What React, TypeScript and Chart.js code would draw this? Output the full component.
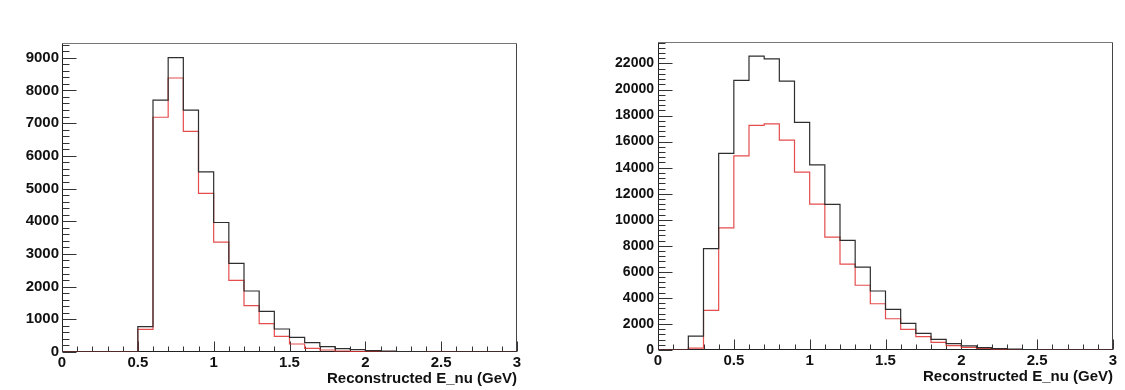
import React, { useEffect, useRef } from "react";
import { Chart, registerables } from "chart.js";

Chart.register(...registerables);

// Lower edges of the 0.1 GeV bins; the last bin closes at 3 GeV
const binLowEdges = [
  0, 0.1, 0.2, 0.3, 0.4, 0.5, 0.6, 0.7, 0.8, 0.9,
  1.0, 1.1, 1.2, 1.3, 1.4, 1.5, 1.6, 1.7, 1.8, 1.9,
  2.0, 2.1, 2.2, 2.3, 2.4, 2.5, 2.6, 2.7, 2.8, 2.9,
];
const histUpperEdge = 3;

const xTickValues = [0, 0.5, 1, 1.5, 2, 2.5, 3];
const xTickLabels = ["0", "0.5", "1", "1.5", "2", "2.5", "3"];
const xAxisTitle = "Reconstructed E_nu (GeV)";

// Left panel
const leftBlack = [
  0, 0, 0, 0, 0, 775, 7700, 9000, 7400, 5510,
  3960, 2710, 1865, 1244, 703, 449, 285, 162, 101, 70,
  40, 25, 15, 10, 6, 4, 3, 2, 1, 1,
];
const leftRed = [
  0, 0, 0, 0, 0, 690, 7180, 8380, 6750, 4850,
  3360, 2190, 1416, 866, 479, 245, 113, 61, 30, 15,
  8, 5, 3, 2, 1, 1, 0, 0, 0, 0,
];
const leftYTickValues = [0, 1000, 2000, 3000, 4000, 5000, 6000, 7000, 8000, 9000];
const leftYTickLabels = ["0", "1000", "2000", "3000", "4000", "5000", "6000", "7000", "8000", "9000"];

// Right panel
const rightBlack = [
  0, 0, 1070, 7780, 15100, 20700, 22560, 22360, 20640, 17480,
  14220, 11180, 8420, 6370, 4530, 3120, 2050, 1280, 820, 490,
  310, 180, 100, 60, 35, 20, 15, 10, 8, 5,
];
const rightRed = [
  0, 0, 150, 3050, 9370, 14900, 17250, 17370, 16120, 13660,
  11200, 8670, 6600, 4970, 3550, 2400, 1590, 1020, 590, 330,
  205, 120, 70, 40, 25, 15, 10, 6, 4, 3,
];
const rightYTickValues = [0, 2000, 4000, 6000, 8000, 10000, 12000, 14000, 16000, 18000, 20000, 22000];
const rightYTickLabels = ["0", "2000", "4000", "6000", "8000", "10000", "12000", "14000", "16000", "18000", "20000", "22000"];

const BLACK = "#2e2e2e";
const RED = "rgba(224, 46, 46, 0.85)";

function toHist(vals: number[]) {
  const pts = binLowEdges.map((x, i) => ({ x, y: vals[i] }));
  pts.push({ x: histUpperEdge, y: vals[vals.length - 1] });
  return pts;
}

const rootFrame = {
  id: "rootFrame",
  beforeDatasetsDraw(chart: any, _args: any, opts: any) {
    const { ctx, chartArea } = chart;
    const { left, right, top, bottom } = chartArea;
    const xs = chart.scales.x;
    const ys = chart.scales.y;
    const L = Math.round(left) + 0.5;
    const R = Math.round(right) - 0.5;
    const T = Math.round(top) + 0.5;
    const B = Math.round(bottom) - 0.5;
    ctx.save();
    ctx.lineWidth = 1;
    // frame
    ctx.strokeStyle = "#777";
    ctx.beginPath();
    ctx.moveTo(L, T);
    ctx.lineTo(R, T);
    ctx.stroke();
    ctx.strokeStyle = "#444";
    ctx.beginPath();
    ctx.moveTo(R, T);
    ctx.lineTo(R, B);
    ctx.stroke();
    ctx.strokeStyle = "#222";
    ctx.beginPath();
    ctx.moveTo(L, T);
    ctx.lineTo(L, B);
    ctx.lineTo(R, B);
    ctx.stroke();
    // y ticks (inward)
    ctx.strokeStyle = "#333";
    const yMinor = opts.yMinor;
    const yPer = opts.yPer;
    for (let i = 0; i * yMinor <= ys.max + 1e-9; i++) {
      const v = i * yMinor;
      const py = Math.round(ys.getPixelForValue(v)) + 0.5;
      if (py < T) continue;
      const len = i % yPer === 0 ? opts.yMajLen : opts.yMinLen;
      ctx.beginPath();
      ctx.moveTo(L, py);
      ctx.lineTo(L + len, py);
      ctx.stroke();
    }
    // x ticks (inward)
    for (let i = 0; i <= 30; i++) {
      const v = i * 0.1;
      const px = Math.round(xs.getPixelForValue(v)) + 0.5;
      const len = i % 5 === 0 ? opts.xMajLen : opts.xMinLen;
      ctx.beginPath();
      ctx.moveTo(px, B);
      ctx.lineTo(px, B - len);
      ctx.stroke();
    }
    ctx.restore();
  },
};

type Panel = {
  width: number;
  black: number[];
  red: number[];
  yMax: number;
  yTicks: number[];
  yLabels: string[];
  yAxisWidth: number;
  xAxisHeight: number;
  padTop: number;
  padRight: number;
  yFont: number;
  yPad: number;
  titlePadBottom: number;
  yMinor: number;
  yPer: number;
};

const FONT = "'Liberation Sans', Arial, sans-serif";

function HistPanel({ p, left }: { p: Panel; left: number }) {
  const ref = useRef<HTMLCanvasElement | null>(null);
  useEffect(() => {
    if (!ref.current) return;
    const chart = new Chart(ref.current, {
      type: "line",
      data: {
        datasets: [
          {
            data: toHist(p.black),
            borderColor: BLACK,
            borderWidth: 1.2,
            stepped: "before",
            pointRadius: 0,
            fill: false,
          },
          {
            data: toHist(p.red),
            borderColor: RED,
            borderWidth: 1.2,
            stepped: "before",
            pointRadius: 0,
            fill: false,
          },
        ],
      },
      options: {
        animation: false,
        responsive: false,
        layout: { padding: { left: 0, right: p.padRight, top: p.padTop, bottom: 0 } },
        plugins: {
          legend: { display: false },
          tooltip: { enabled: false },
          rootFrame: {
            yMinor: p.yMinor,
            yPer: p.yPer,
            yMajLen: 14,
            yMinLen: 7,
            xMajLen: 10,
            xMinLen: 5,
          },
        } as any,
        scales: {
          x: {
            type: "linear",
            bounds: "data",
            min: 0,
            max: 3,
            grid: { display: false, drawTicks: false },
            border: { display: false },
            afterBuildTicks: (s: any) => {
              s.ticks = xTickValues.map((v) => ({ value: v }));
            },
            ticks: {
              autoSkip: false,
              maxRotation: 0,
              padding: 2,
              color: "#111",
              font: { family: FONT, size: 15, weight: "bold" },
              callback: (v: any) => xTickLabels[xTickValues.indexOf(Number(v))],
            },
            title: {
              display: true,
              text: xAxisTitle,
              align: "end",
              color: "#111",
              font: { family: FONT, size: 15, weight: "bold" },
              padding: { top: 0, bottom: p.titlePadBottom },
            },
            afterFit: (s: any) => {
              s.height = p.xAxisHeight;
            },
          },
          y: {
            type: "linear",
            bounds: "data",
            min: 0,
            max: p.yMax,
            grid: { display: false, drawTicks: false },
            border: { display: false },
            afterBuildTicks: (s: any) => {
              s.ticks = p.yTicks.map((v) => ({ value: v }));
            },
            ticks: {
              autoSkip: false,
              padding: p.yPad,
              color: "#111",
              font: { family: FONT, size: p.yFont, weight: "bold" },
              callback: (v: any) => p.yLabels[p.yTicks.indexOf(Number(v))],
            },
            afterFit: (s: any) => {
              s.width = p.yAxisWidth;
            },
          },
        },
      } as any,
      plugins: [rootFrame],
    });
    return () => chart.destroy();
  }, [p]);
  return (
    <canvas
      ref={ref}
      width={p.width}
      height={390}
      style={{ position: "absolute", left, top: 0, width: p.width, height: 390 }}
    />
  );
}

const leftPanel: Panel = {
  width: 560,
  black: leftBlack,
  red: leftRed,
  yMax: 9450,
  yTicks: leftYTickValues,
  yLabels: leftYTickLabels,
  yAxisWidth: 62,
  xAxisHeight: 38,
  padTop: 43,
  padRight: 43,
  yFont: 15,
  yPad: 3,
  titlePadBottom: 2,
  yMinor: 200,
  yPer: 5,
};

const rightPanel: Panel = {
  width: 545,
  black: rightBlack,
  red: rightRed,
  yMax: 23650,
  yTicks: rightYTickValues,
  yLabels: rightYTickLabels,
  yAxisWidth: 78,
  xAxisHeight: 40,
  padTop: 42,
  padRight: 12,
  yFont: 14,
  yPad: 4,
  titlePadBottom: 4,
  yMinor: 400,
  yPer: 5,
};

export default function App() {
  return (
    <div style={{ position: "fixed", left: 0, top: 0, width: 1125, height: 390, background: "#fff" }}>
      <HistPanel p={leftPanel} left={0} />
      <HistPanel p={rightPanel} left={580} />
    </div>
  );
}
